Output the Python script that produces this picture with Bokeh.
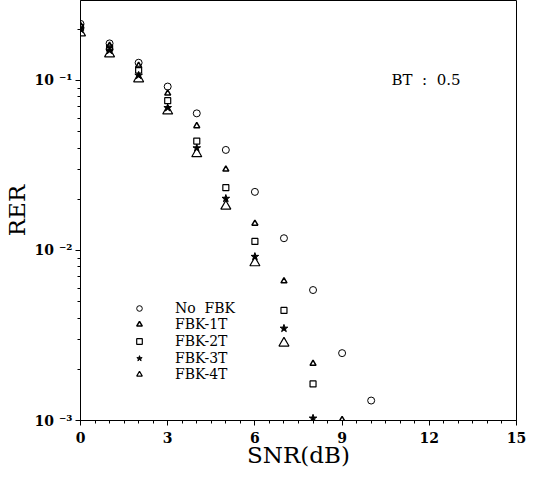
from bokeh.plotting import figure
from bokeh.models import Legend, LegendItem, Label, FixedTicker, Range1d
from bokeh.embed import file_html
from bokeh.resources import INLINE

# ---- data ----
snr_nofbk = [0, 1, 2, 3, 4, 5, 6, 7, 8, 9, 10]
ber_nofbk = [0.215, 0.165, 0.127, 0.092, 0.064, 0.039, 0.0221, 0.0118, 0.00585, 0.00249, 0.00131]

snr_1t = [0, 1, 2, 3, 4, 5, 6, 7, 8, 9]
ber_1t = [0.21, 0.16, 0.122, 0.084, 0.054, 0.030, 0.0144, 0.0066, 0.00216, 0.00101]

snr_2t = [0, 1, 2, 3, 4, 5, 6, 7, 8]
ber_2t = [0.205, 0.155, 0.115, 0.076, 0.044, 0.0234, 0.0113, 0.00444, 0.00164]

snr_3t = [0, 1, 2, 3, 4, 5, 6, 7, 8]
ber_3t = [0.20, 0.15, 0.107, 0.069, 0.040, 0.0202, 0.0092, 0.00348, 0.00103]

snr_4t = [0, 1, 2, 3, 4, 5, 6, 7, 8]
ber_4t = [0.19, 0.143, 0.102, 0.066, 0.037, 0.0182, 0.00845, 0.00285, 0.00088]

series_names = ["No\u00a0\u00a0FBK", "FBK-1T", "FBK-2T", "FBK-3T", "FBK-4T"]
x_ticks = [0, 3, 6, 9, 12, 15]
y_tick_labels = {0.1: "10 ⁻¹", 0.01: "10 ⁻²", 0.001: "10 ⁻³"}
note_text = "BT\u00a0\u00a0:\u00a0\u00a00.5"

SERIF = "DejaVu Serif"

p = figure(frame_width=436, frame_height=420, y_axis_type="log",
           x_range=Range1d(0, 15), y_range=Range1d(1e-3, 0.295),
           output_backend="svg", toolbar_location=None,
           min_border_left=79, min_border_right=14, min_border_top=0,
           min_border_bottom=0)

p.xgrid.visible = False
p.ygrid.visible = False
p.outline_line_color = "black"
p.outline_line_width = 1
p.background_fill_color = "white"
p.border_fill_color = "white"

r0 = p.scatter(snr_nofbk, ber_nofbk, marker="circle", size=7,
               fill_color=None, line_color="black", line_width=1)
r1 = p.scatter(snr_1t, ber_1t, marker="triangle", size=6,
               fill_color=None, line_color="black", line_width=1.5)
r2 = p.scatter(snr_2t, ber_2t, marker="square", size=6,
               fill_color=None, line_color="black", line_width=1.2)
r3 = p.scatter(snr_3t, ber_3t, marker="star", size=8,
               fill_color="black", line_color="black", line_width=1)
r4 = p.scatter(snr_4t, ber_4t, marker="triangle", size=10,
               fill_color=None, line_color="black", line_width=1.2)

# axes
p.xaxis.ticker = FixedTicker(ticks=x_ticks,
                             minor_ticks=[i * 0.5 for i in range(31)])
p.xaxis.axis_label = "SNR(dB)"
p.yaxis.axis_label = "RER"
p.yaxis.major_label_overrides = y_tick_labels
for ax in (p.xaxis[0], p.yaxis[0]):
    ax.axis_label_text_font = SERIF
    ax.axis_label_text_font_size = "23px"
    ax.axis_label_text_font_style = "normal"
    ax.axis_label_text_color = "black"
    ax.major_label_text_font = SERIF
    ax.major_label_text_font_size = "14px"
    ax.major_label_text_font_style = "bold"
    ax.major_label_text_color = "black"
    ax.axis_line_color = "black"
    ax.major_tick_line_color = "black"
    ax.minor_tick_line_color = "black"
    ax.major_tick_in = 0
    ax.major_tick_out = 5
    ax.minor_tick_in = 0
    ax.minor_tick_out = 3
p.xaxis.major_label_standoff = 6
p.xaxis.axis_label_standoff = -4
p.yaxis.major_label_standoff = 3
p.yaxis.axis_label_standoff = 2

p.add_layout(Label(x=10.7, y=0.1, text=note_text, text_font=SERIF,
                   text_font_size="15px", text_baseline="middle",
                   text_color="black"))

# one legend box per row, so the row pitch matches the reference
renderers = [r0, r1, r2, r3, r4]
for i, (name, r) in enumerate(zip(series_names, renderers)):
    lg = Legend(items=[LegendItem(label=name, renderers=[r])],
                location=(35, 104 - round(i * 16.5)), label_text_font=SERIF,
                label_text_font_size="14px", label_text_color="black",
                label_text_line_height=1.0, label_height=14,
                glyph_height=14, glyph_width=48, spacing=0, padding=0,
                margin=0, label_standoff=12, border_line_color=None,
                background_fill_alpha=0)
    p.add_layout(lg)

open("out.html", "w").write(file_html(p, INLINE))
